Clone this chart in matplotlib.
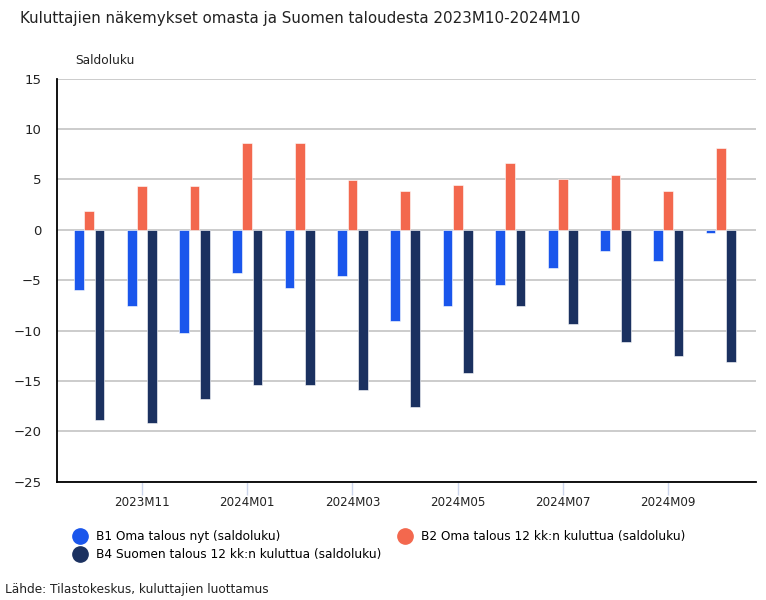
import numpy as np
import matplotlib; matplotlib.use('Agg')
import matplotlib.pyplot as plt
from matplotlib.lines import Line2D

# Data (saldoluku), 2023M10 - 2024M10
months = ['2023M10', '2023M11', '2023M12', '2024M01', '2024M02', '2024M03', '2024M04',
          '2024M05', '2024M06', '2024M07', '2024M08', '2024M09', '2024M10']
b1_oma_nyt = [-6.0, -7.6, -10.2, -4.3, -5.8, -4.6, -9.0, -7.6, -5.5, -3.8, -2.1, -3.1, -0.3]
b2_oma_12kk = [1.9, 4.3, 4.3, 8.6, 8.6, 4.9, 3.8, 4.4, 6.6, 5.0, 5.4, 3.8, 8.1]
b4_suomi_12kk = [-18.9, -19.2, -16.8, -15.4, -15.4, -15.9, -17.6, -14.2, -7.6, -9.3, -11.1, -12.5, -13.1]

labels = ['B1 Oma talous nyt (saldoluku)',
          'B2 Oma talous 12 kk:n kuluttua (saldoluku)',
          'B4 Suomen talous 12 kk:n kuluttua (saldoluku)']
colors = ['#1a56ec', '#f3684e', '#1b3160']

plt.rcParams['font.family'] = ['DejaVu Sans']

fig = plt.figure(figsize=(7.66, 6.0), dpi=100)
ax = fig.add_axes([0.074, 0.197, 0.913, 0.672])

x = np.arange(len(months))
w = 0.185
step = 0.195
for off, vals, c in zip([-step, 0, step], [b1_oma_nyt, b2_oma_12kk, b4_suomi_12kk], colors):
    ax.bar(x + off, vals, width=w, color=c, edgecolor='white', linewidth=0.4, zorder=3)

ax.set_ylim(-25, 15)
ax.set_yticks(np.arange(-25, 16, 5))
ax.set_yticklabels([str(v).replace('-', '\u2212') for v in range(-25, 16, 5)])
ax.set_xlim(-0.62, 12.67)
ax.set_xticks(x[1::2])
ax.set_xticklabels(months[1::2])

ax.grid(axis='y', color='#c8c8c8', lw=1.3, zorder=0)
ax.set_axisbelow(True)
for s in ['top', 'right']:
    ax.spines[s].set_visible(False)
ax.spines['left'].set_linewidth(1.3)
ax.spines['bottom'].set_linewidth(1.3)
ax.tick_params(axis='y', length=0, pad=11, labelsize=9.5, colors='#222222')
ax.tick_params(axis='x', length=9, width=1, color='#ccd6eb', pad=1, labelsize=8.6,
               labelcolor='#222222')

fig.text(20 / 766, 1 - 19 / 600, 'Kuluttajien näkemykset omasta ja Suomen taloudesta 2023M10-2024M10',
         fontsize=10.9, va='center', ha='left', color='#222222')
fig.text(75 / 766, 1 - 60 / 600, 'Saldoluku', fontsize=8.8, va='center', ha='left', color='#222222')
fig.text(5 / 766, 1 - 590 / 600, 'Lähde: Tilastokeskus, kuluttajien luottamus',
         fontsize=8.7, va='center', ha='left', color='#222222')

handles = [Line2D([], [], marker='o', ls='', markersize=11, color=c) for c in colors]
order = [0, 2, 1]
fig.legend([handles[i] for i in order], [labels[i] for i in order],
           loc='upper left', bbox_to_anchor=(75 / 766, 1 - 530 / 600), ncol=2,
           frameon=False, fontsize=8.7, handlelength=0.8, handletextpad=0.9,
           columnspacing=1.6, labelspacing=0.45, borderaxespad=0, borderpad=0)

plt.savefig('out.png', dpi=100)
